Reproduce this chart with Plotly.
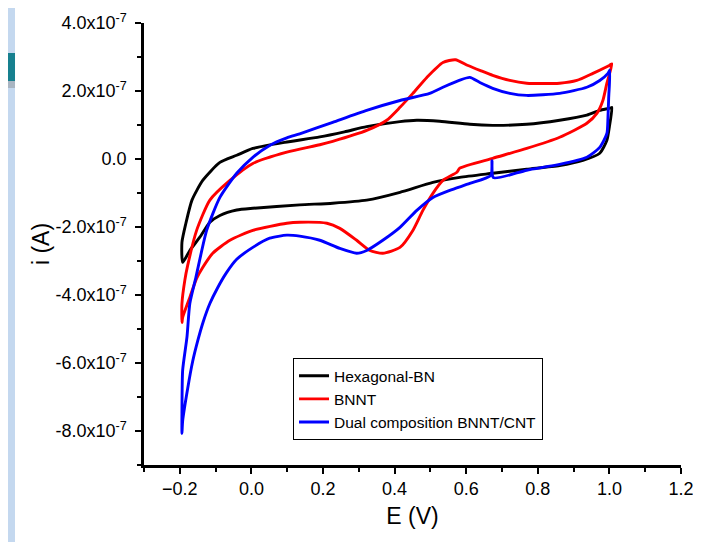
import numpy as np
import plotly.graph_objects as go

# cyclic voltammograms, potential in V, current in units of 1e-7 A
hbn_E = [-0.192, -0.194, -0.183, -0.166, -0.136, -0.088, -0.041, 0.004, 0.093, 0.191,
         0.260, 0.322, 0.415, 0.462, 0.526, 0.610, 0.674, 0.769, 0.861, 0.937, 0.973,
         1.003, 1.007, 1.000, 0.993, 0.973, 0.926, 0.861, 0.769, 0.674, 0.582, 0.507,
         0.415, 0.322, 0.227, 0.135, 0.004, -0.041, -0.088, -0.116, -0.144, -0.172, -0.192]
hbn_i = [-3.04, -2.45, -1.89, -1.21, -0.63, -0.10, 0.11, 0.31, 0.49, 0.65,
         0.80, 0.95, 1.10, 1.14, 1.11, 1.02, 0.99, 1.02, 1.14, 1.29, 1.43,
         1.50, 1.52, 0.95, 0.55, 0.17, -0.04, -0.19, -0.30, -0.42, -0.54, -0.69,
         -0.98, -1.21, -1.30, -1.35, -1.45, -1.50, -1.66, -1.86, -2.30, -2.69, -3.04]

bnnt_E = [-0.194, -0.194, -0.186, -0.178, -0.153, -0.116, -0.060, 0.004, 0.099, 0.191,
          0.227, 0.322, 0.378, 0.415, 0.451, 0.490, 0.535, 0.570, 0.605, 0.640, 0.674,
          0.722, 0.769, 0.861, 0.909, 0.954, 1.001, 1.007, 0.993, 0.982, 0.965, 0.937,
          0.861, 0.769, 0.674, 0.582, 0.574, 0.535, 0.507, 0.479, 0.451, 0.415, 0.367,
          0.331, 0.294, 0.247, 0.211, 0.135, 0.099, 0.004, -0.060, -0.108, -0.136,
          -0.153, -0.172, -0.192, -0.194]
bnnt_i = [-4.81, -4.25, -3.57, -3.13, -2.10, -1.21, -0.63, -0.13, 0.20, 0.42,
          0.52, 0.84, 1.14, 1.52, 1.93, 2.40, 2.84, 2.92, 2.75, 2.60, 2.46,
          2.31, 2.23, 2.23, 2.31, 2.52, 2.76, 2.80, 2.23, 1.73, 1.34, 1.05,
          0.64, 0.31, 0.02, -0.27, -0.39, -0.63, -1.01, -1.51, -2.10, -2.60, -2.77,
          -2.69, -2.39, -2.04, -1.89, -1.86, -1.89, -2.10, -2.39, -2.77, -3.19,
          -3.51, -4.07, -4.66, -4.81]

dual_E = [-0.194, -0.194, -0.192, -0.180, -0.172, -0.155, -0.125, -0.088, -0.041, 0.004,
          0.051, 0.099, 0.135, 0.227, 0.322, 0.415, 0.498, 0.535, 0.582, 0.610, 0.638,
          0.674, 0.722, 0.769, 0.861, 0.937, 0.973, 0.996, 1.001, 0.998, 0.996, 0.993,
          0.973, 0.937, 0.861, 0.769, 0.676, 0.672, 0.669, 0.610, 0.554, 0.507, 0.462,
          0.415, 0.367, 0.322, 0.294, 0.247, 0.191, 0.135, 0.099, 0.051, 0.004, -0.041,
          -0.070, -0.095, -0.116, -0.135, -0.150, -0.164, -0.178, -0.192, -0.194]
dual_i = [-8.07, -7.48, -6.21, -5.24, -4.25, -3.48, -2.10, -1.13, -0.42, 0.05,
          0.40, 0.62, 0.74, 1.08, 1.43, 1.72, 1.93, 2.11, 2.32, 2.40, 2.25,
          2.08, 1.93, 1.87, 1.93, 2.11, 2.31, 2.52, 2.61, 1.80, 1.22, 0.75,
          0.34, 0.05, -0.16, -0.33, -0.55, -0.05, -0.48, -0.72, -0.92, -1.13, -1.51,
          -2.01, -2.39, -2.69, -2.77, -2.63, -2.39, -2.27, -2.24, -2.33, -2.60, -2.95,
          -3.35, -3.80, -4.25, -4.80, -5.35, -5.95, -6.75, -7.70, -8.07]

y_ticks = [-8, -6, -4, -2, 0, 2, 4]
y_labels = ["-8.0x10<sup>-7</sup>", "-6.0x10<sup>-7</sup>", "-4.0x10<sup>-7</sup>",
            "-2.0x10<sup>-7</sup>", "0.0", "2.0x10<sup>-7</sup>", "4.0x10<sup>-7</sup>"]

series = [("Hexagonal-BN", hbn_E, hbn_i, "black"),
          ("BNNT", bnnt_E, bnnt_i, "red"),
          ("Dual composition BNNT/CNT", dual_E, dual_i, "blue")]

fig = go.Figure()
for name, e, i, col in series:
    fig.add_trace(go.Scatter(x=e, y=np.array(i) * 1e-7, mode='lines', name=name,
                             line=dict(color=col, width=2.9, shape='spline',
                                       smoothing=0.6)))

font = "Liberation Sans, Arial, sans-serif"
axis = dict(showline=True, linecolor='black', linewidth=2.5, ticks='outside',
            ticklen=6, tickwidth=2, tickcolor='black', showgrid=False, zeroline=False,
            automargin=False,
            tickfont=dict(family=font, size=18, color='black'))

# the page body adds 8px around the figure, so margins are 8px smaller
fig.update_layout(
    width=701, height=542,
    margin=dict(l=136, r=28, t=15, b=85),
    paper_bgcolor='white', plot_bgcolor='white',
    font=dict(family=font, color='black'),
    xaxis=dict(axis, range=[-0.3, 1.2], dtick=0.2, tick0=-0.2,
               tickformat='.1f',
               minor=dict(ticks='outside', ticklen=4, tickwidth=2, dtick=0.1,
                          tickcolor='black'),
               title=dict(text='E (V)', font=dict(size=23), standoff=10)),
    yaxis=dict(axis, range=[-9e-7, 4e-7],
               tickvals=[v * 1e-7 for v in y_ticks], ticktext=y_labels,
               ticklabelstandoff=5,
               minor=dict(ticks='outside', ticklen=4, tickwidth=2,
                          tickvals=[v * 1e-7 for v in range(-9, 5)],
                          tickcolor='black'),
               title=dict(text='i (A)', font=dict(size=23), standoff=0)),
    legend=dict(x=0.2775, y=0.149, xanchor='left', yanchor='middle',
                bgcolor='white', bordercolor='black', borderwidth=1,
                font=dict(size=15.5), tracegroupgap=0),
    showlegend=True,
)

# slide background around the chart
bg = "#C4D8EF"
fig.add_shape(type='rect', xref='paper', yref='paper', x0=-0.3, x1=-0.2402,
              y0=-0.3, y1=1.1, fillcolor=bg, line_width=0, layer='below')
fig.add_shape(type='rect', xref='paper', yref='paper', x0=-0.3, x1=1.1,
              y0=1.043, y1=1.1, fillcolor=bg, line_width=0, layer='below')
fig.add_shape(type='rect', xref='paper', yref='paper', x0=-0.3, x1=-0.2402,
              y0=0.853, y1=0.8688, fillcolor="#A9B5C2", line_width=0, layer='below')
fig.add_shape(type='rect', xref='paper', yref='paper', x0=-0.3, x1=-0.2402,
              y0=0.8688, y1=0.9321, fillcolor="#17808F", line_width=0, layer='below')

fig.write_html("out.html")
